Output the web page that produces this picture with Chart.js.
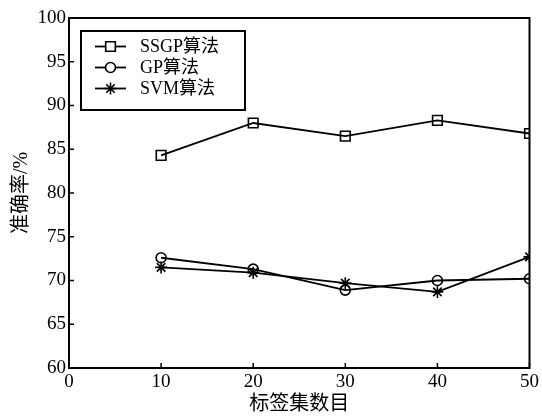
<!DOCTYPE html>
<html>
<head>
<meta charset="utf-8">
<script src="https://cdn.jsdelivr.net/npm/chart.js@4/dist/chart.umd.min.js"></script>
<style>
  html, body { margin: 0; padding: 0; background: #fff; }
  #wrap { width: 542px; height: 417px; }
</style>
</head>
<body>
<div id="wrap"><canvas id="c" width="542" height="417"></canvas></div>
<script>
// Number of label sets on the x axis
const labelCounts = [10, 20, 30, 40, 50];
// Accuracy (%) per algorithm
const ssgpAccuracy = [84.3, 88.0, 86.5, 88.3, 86.8];
const gpAccuracy   = [72.6, 71.3, 68.9, 70.0, 70.2];
const svmAccuracy  = [71.5, 70.9, 69.7, 68.7, 72.7];
const seriesNames  = ['SSGP算法', 'GP算法', 'SVM算法'];
const xTicks = [0, 10, 20, 30, 40, 50];
const yTicks = [60, 65, 70, 75, 80, 85, 90, 95, 100];

const serif = '"Liberation Serif", "Noto Sans CJK SC", serif';

function toPoints(ys) {
  return labelCounts.map((x, i) => ({ x: x, y: ys[i] }));
}

function series(name, ys, style, radius) {
  return {
    label: name,
    data: toPoints(ys),
    showLine: true,
    borderColor: '#000',
    backgroundColor: 'rgba(0,0,0,0)',
    borderWidth: 1.8,
    pointStyle: style,
    pointRadius: radius,
    pointBorderWidth: 1.6,
    pointBorderColor: '#000',
    pointBackgroundColor: 'rgba(0,0,0,0)',
    tension: 0
  };
}

// Frame around the plot, inward ticks and the boxed legend
const framePlugin = {
  id: 'frame',
  afterDraw(chart) {
    const { ctx, chartArea: a, scales } = chart;
    ctx.save();
    ctx.strokeStyle = '#000';
    ctx.lineWidth = 2;
    ctx.strokeRect(a.left, a.top, a.right - a.left, a.bottom - a.top);

    ctx.lineWidth = 1.5;
    const tl = 5;
    xTicks.forEach(v => {
      const px = scales.x.getPixelForValue(v);
      ctx.beginPath();
      ctx.moveTo(px, a.bottom);
      ctx.lineTo(px, a.bottom - tl);
      ctx.stroke();
    });
    yTicks.forEach(v => {
      const py = scales.y.getPixelForValue(v);
      ctx.beginPath();
      ctx.moveTo(a.left, py);
      ctx.lineTo(a.left + tl, py);
      ctx.stroke();
    });

    // legend box
    const bx = 81, by = 31, bw = 164, bh = 79;
    ctx.lineWidth = 2;
    ctx.strokeRect(bx, by, bw, bh);
    const rows = [46.5, 67.5, 88.5];
    ctx.textBaseline = 'middle';
    chart.data.datasets.forEach((ds, i) => {
      const y = rows[i];
      ctx.strokeStyle = '#000';
      ctx.lineWidth = ds.borderWidth;
      ctx.beginPath();
      ctx.moveTo(95, y);
      ctx.lineTo(126, y);
      ctx.stroke();
      ctx.lineWidth = ds.pointBorderWidth;
      ctx.fillStyle = '#fff';
      Chart.helpers.drawPoint(ctx, {
        pointStyle: ds.pointStyle,
        radius: ds.pointRadius,
        rotation: 0,
        borderWidth: ds.pointBorderWidth
      }, 110.5, y);
      ctx.fillStyle = '#000';
      ctx.font = '18px ' + serif;
      ctx.fillText(ds.label, 140, y + 1);
    });
    ctx.restore();
  }
};

new Chart(document.getElementById('c'), {
  type: 'scatter',
  data: {
    datasets: [
      series(seriesNames[0], ssgpAccuracy, 'rect', 6.8),
      series(seriesNames[1], gpAccuracy, 'circle', 5),
      series(seriesNames[2], svmAccuracy, 'star', 6)
    ]
  },
  options: {
    responsive: false,
    animation: false,
    layout: { padding: { top: 18, right: 12, left: 10, bottom: 0 } },
    plugins: {
      legend: { display: false },
      tooltip: { enabled: false }
    },
    scales: {
      x: {
        type: 'linear',
        min: 0,
        max: 50,
        afterBuildTicks(scale) { scale.ticks = xTicks.map(v => ({ value: v })); },
        afterFit(scale) { scale.height = 49; },
        grid: { display: false, drawTicks: false },
        border: { display: false },
        ticks: {
          color: '#000',
          padding: 3,
          font: { family: serif, size: 19 },
          maxRotation: 0
        },
        title: {
          display: true,
          text: '标签集数目',
          color: '#000',
          padding: { top: 0, bottom: 0 },
          font: { family: serif, size: 20 }
        }
      },
      y: {
        min: 60,
        max: 100,
        afterBuildTicks(scale) { scale.ticks = yTicks.map(v => ({ value: v })); },
        afterFit(scale) { scale.width = 59; },
        grid: { display: false, drawTicks: false },
        border: { display: false },
        ticks: {
          color: '#000',
          padding: 3,
          font: { family: serif, size: 19 }
        },
        title: {
          display: true,
          text: '准确率/%',
          color: '#000',
          padding: { top: 0, bottom: 0 },
          font: { family: serif, size: 20 }
        }
      }
    }
  },
  plugins: [framePlugin]
});
</script>
</body>
</html>
